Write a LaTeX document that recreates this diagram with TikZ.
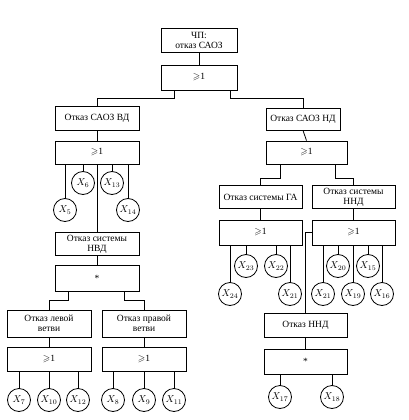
\documentclass[tikz,border=0pt]{standalone}
\usepackage{amsmath,amssymb}
\usepackage{fontspec}
\setmainfont{Liberation Serif}

\begin{document}
\begin{tikzpicture}[x=1pt,y=-1pt,
  box/.style={draw,line width=0.8pt,inner sep=1pt,align=center,font=\fontsize{9.5}{10}\selectfont},
  ev/.style={draw,circle,line width=0.8pt,minimum size=23pt,inner sep=0pt,font=\fontsize{10}{11}\selectfont},
  wire/.style={line width=0.8pt}]
\path[use as bounding box] (0,0) rectangle (409,420);
\path[fill=white,draw=none] (0,0) rectangle (409,420);
% top event
\node[box,minimum width=76pt,minimum height=24pt] (top) at (199,40) {ЧП:\\отказ САОЗ};
\node[box,minimum width=76pt,minimum height=25pt] (or0) at (199,77.5) {$\geqslant$1};
\draw[wire] (top.south) -- (or0.north);
% left branch: high pressure
\node[box,minimum width=84pt,minimum height=24pt] (vd) at (97,118) {Отказ САОЗ ВД};
\node[box,minimum width=84pt,minimum height=23pt] (or1) at (97,152.5) {$\geqslant$1};
\draw[wire] ([xshift=-25pt]or0.south) -- ++(0,8) -| (vd.north);
\draw[wire] (vd.south) -- (or1.north);
\node[ev] (x5) at (65,210) {$X_{5}$};
\node[ev] (x6) at (83,183) {$X_{6}$};
\node[ev] (x13) at (112,183) {$X_{13}$};
\node[ev] (x14) at (128,210) {$X_{14}$};
\draw[wire] (x5.north) -- (x5 |- or1.south);
\draw[wire] (x6.north) -- (x6 |- or1.south);
\draw[wire] (x13.north) -- (x13 |- or1.south);
\draw[wire] (x14.north) -- (x14 |- or1.south);
\node[box,minimum width=84pt,minimum height=23pt] (nvd) at (97,244) {Отказ системы\\НВД};
\draw[wire] (or1.south) -- (nvd.north);
\node[box,minimum width=84pt,minimum height=26pt] (and1) at (97,278) {*};
\draw[wire] (nvd.south) -- (and1.north);
\node[box,minimum width=84pt,minimum height=27pt] (lb) at (49,323.5) {Отказ левой\\ветви};
\node[box,minimum width=84pt,minimum height=27pt] (rb) at (144,323.5) {Отказ правой\\ветви};
\draw[wire] ([xshift=-29pt]and1.south) -- ++(0,9) -| (lb.north);
\draw[wire] ([xshift=27pt]and1.south) -- ++(0,9) -| (rb.north);
\node[box,minimum width=84pt,minimum height=24pt] (orl) at (49,359) {$\geqslant$1};
\node[box,minimum width=84pt,minimum height=24pt] (orr) at (144,359) {$\geqslant$1};
\draw[wire] (lb.south) -- (orl.north);
\draw[wire] (rb.south) -- (orr.north);
\node[ev] (x7) at (19,400) {$X_{7}$};
\node[ev] (x10) at (49,400) {$X_{10}$};
\node[ev] (x12) at (78,400) {$X_{12}$};
\node[ev] (x8) at (113,400) {$X_{8}$};
\node[ev] (x9) at (144,400) {$X_{9}$};
\node[ev] (x11) at (174,400) {$X_{11}$};
\draw[wire] (x7.north) -- (x7 |- orl.south);
\draw[wire] (x10.north) -- (x10 |- orl.south);
\draw[wire] (x12.north) -- (x12 |- orl.south);
\draw[wire] (x8.north) -- (x8 |- orr.south);
\draw[wire] (x9.north) -- (x9 |- orr.south);
\draw[wire] (x11.north) -- (x11 |- orr.south);
% right branch: low pressure
\node[box,minimum width=74pt,minimum height=22pt] (nd) at (303,119) {Отказ САОЗ НД};
\node[box,minimum width=81pt,minimum height=23pt] (or2) at (306.5,152.5) {$\geqslant$1};
\draw[wire] ([xshift=31pt]or0.south) -- ++(0,8) -| (nd.north);
\draw[wire] (nd.south) -- (or2.north);
\node[box,minimum width=83pt,minimum height=23pt] (ga) at (260.5,197) {Отказ системы ГА};
\node[box,minimum width=83pt,minimum height=23pt] (nnd) at (353.5,197) {Отказ системы\\ННД};
\draw[wire] ([xshift=-26.5pt]or2.south) -- ++(0,14) -| (ga.north);
\draw[wire] ([xshift=28.5pt]or2.south) -- ++(0,14) -| (nnd.north);
\node[box,minimum width=83pt,minimum height=25pt] (or3) at (260.5,232.5) {$\geqslant$1};
\node[box,minimum width=83pt,minimum height=25pt] (or4) at (353.5,232.5) {$\geqslant$1};
\draw[wire] (ga.south) -- (or3.north);
\draw[wire] (nnd.south) -- (or4.north);
\node[ev] (x23) at (246,266) {$X_{23}$};
\node[ev] (x22) at (276,266) {$X_{22}$};
\node[ev] (x24) at (230,294) {$X_{24}$};
\node[ev] (x21a) at (290,294) {$X_{21}$};
\draw[wire] (x23.north) -- (x23 |- or3.south);
\draw[wire] (x22.north) -- (x22 |- or3.south);
\draw[wire] (x24.north) -- (x24 |- or3.south);
\draw[wire] (x21a.north) -- (x21a |- or3.south);
\node[ev] (x20) at (338,266) {$X_{20}$};
\node[ev] (x15) at (368,266) {$X_{15}$};
\node[ev] (x21b) at (323,294) {$X_{21}$};
\node[ev] (x19) at (353,294) {$X_{19}$};
\node[ev] (x16) at (382,294) {$X_{16}$};
\draw[wire] (x20.north) -- (x20 |- or4.south);
\draw[wire] (x15.north) -- (x15 |- or4.south);
\draw[wire] (x21b.north) -- (x21b |- or4.south);
\draw[wire] (x19.north) -- (x19 |- or4.south);
\draw[wire] (x16.north) -- (x16 |- or4.south);
\node[box,minimum width=83pt,minimum height=24pt] (hnd) at (305.5,325) {Отказ ННД};
\draw[wire] (or4.west) -| (hnd.north);
\node[box,minimum width=83pt,minimum height=25pt] (and2) at (305.5,361.5) {*};
\draw[wire] (hnd.south) -- (and2.north);
\node[ev] (x17) at (280,397) {$X_{17}$};
\node[ev] (x18) at (332,397) {$X_{18}$};
\draw[wire] (x17.north) -- (x17 |- and2.south);
\draw[wire] (x18.north) -- (x18 |- and2.south);
\end{tikzpicture}
\end{document}
